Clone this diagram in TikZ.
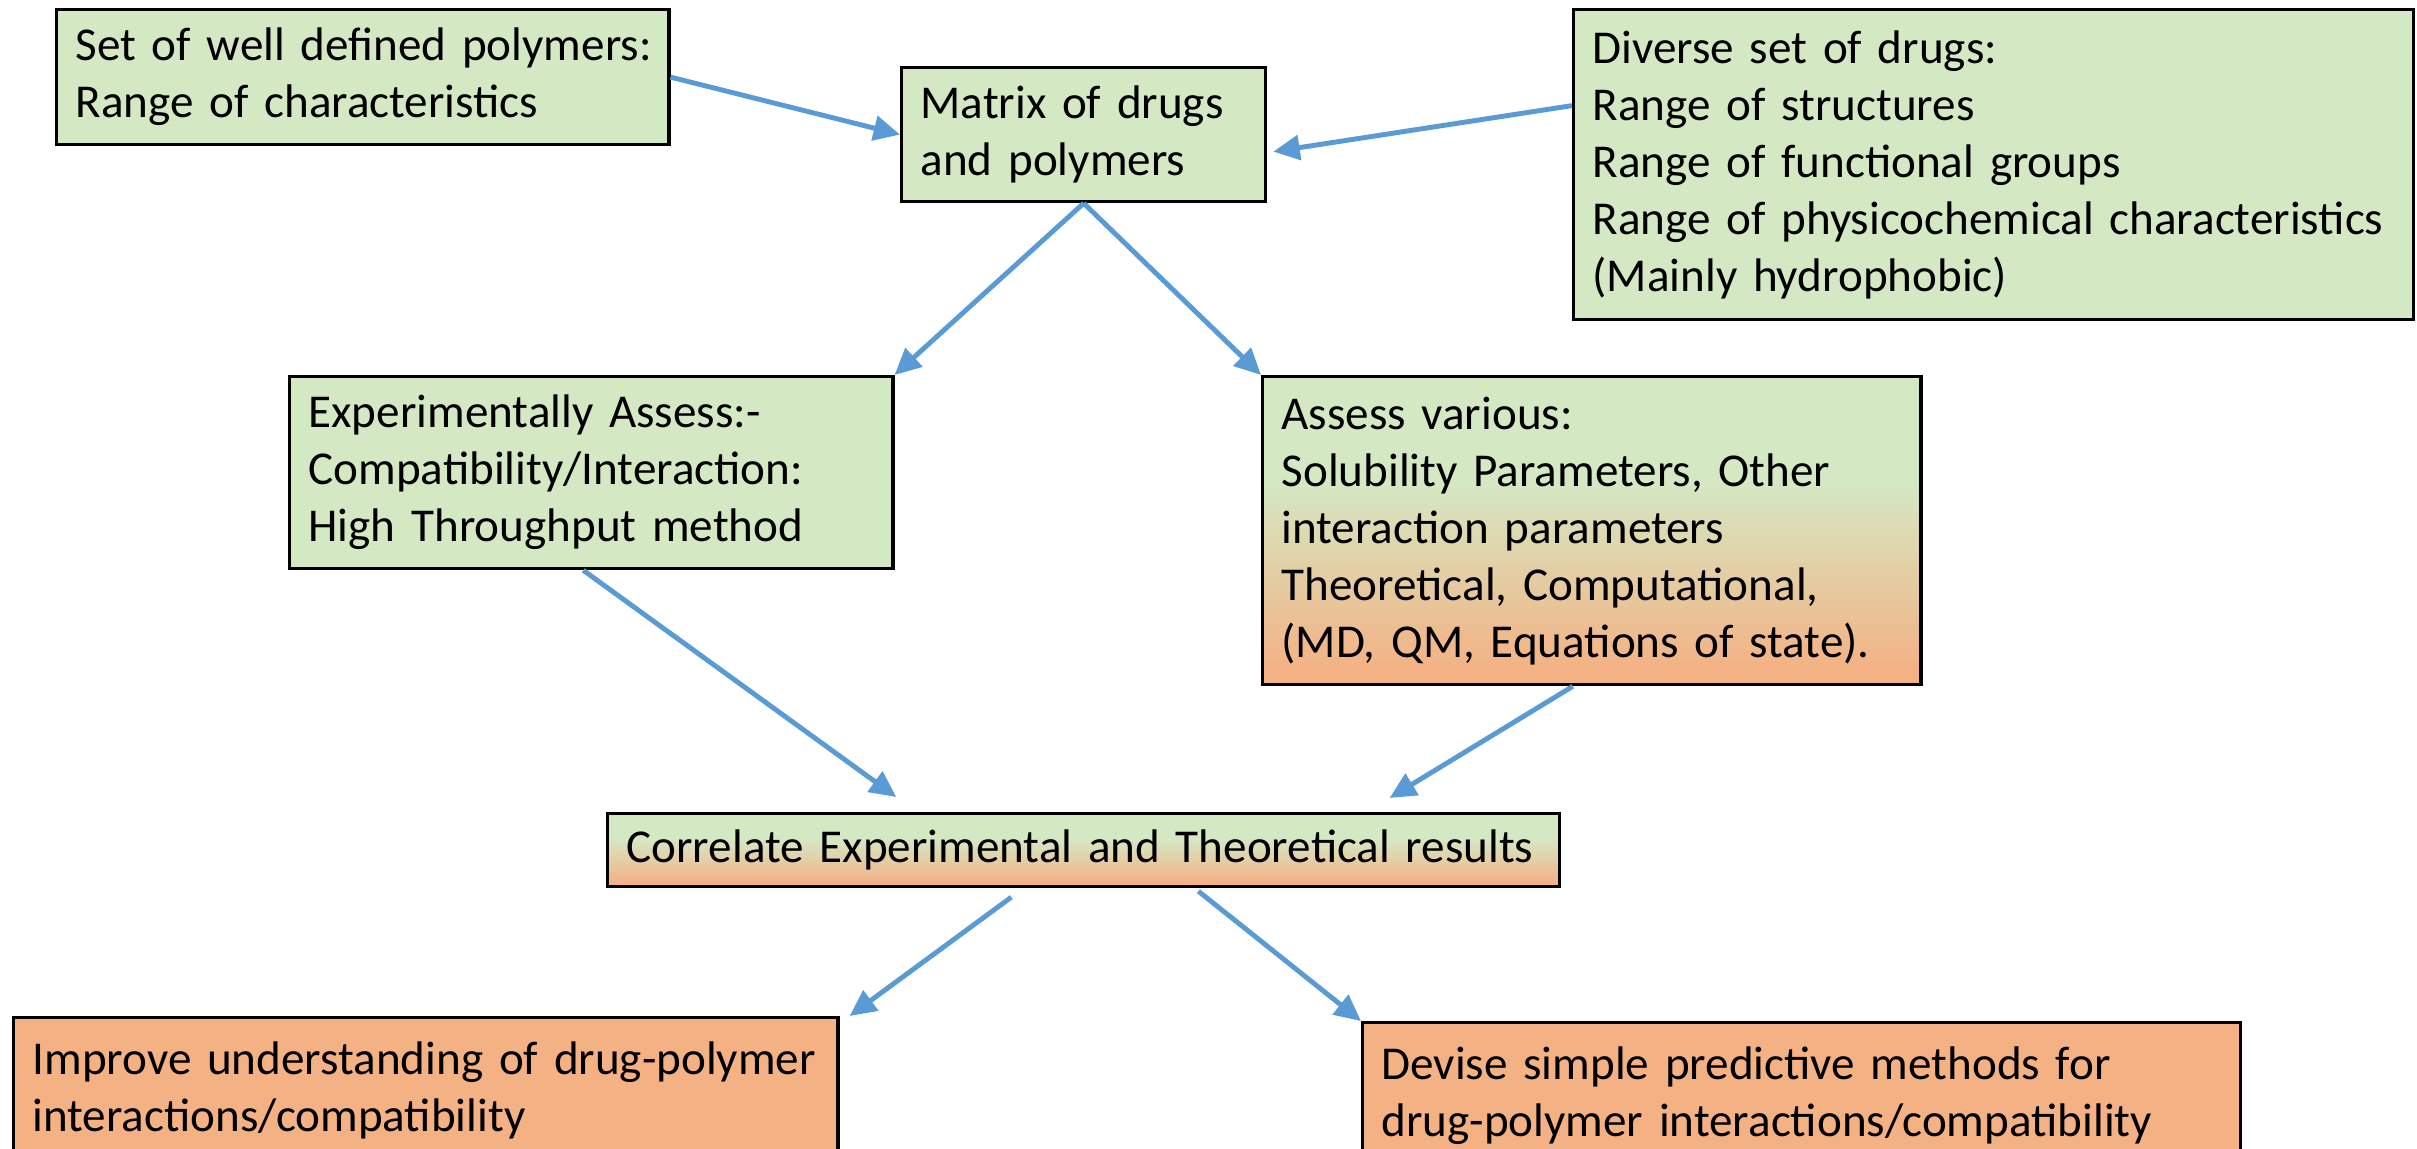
\documentclass[tikz,border=0pt]{standalone}
\usepackage{fontspec}
\setmainfont{Carlito}
\usetikzlibrary{arrows.meta}
\definecolor{boxgreen}{HTML}{D5E8C4}
\definecolor{boxorange}{HTML}{F4B183}
\definecolor{arrowblue}{HTML}{5B9BD5}
\pgfdeclareverticalshading{greentoorange}{100bp}{color(0bp)=(boxorange); color(27bp)=(boxorange); color(58bp)=(boxgreen); color(100bp)=(boxgreen)}

\begin{document}
\begin{tikzpicture}[x=0.01cm, y=-0.01cm,
		box/.style={draw=black, line width=0.9pt, anchor=north west, align=left, inner xsep=0.19cm, inner ysep=0pt, font=\fontsize{13.4}{16.2}\selectfont},
		greenbox/.style={box, fill=boxgreen},
		orangebox/.style={box, fill=boxorange},
		mixbox/.style={box, shading=greentoorange},
		flow/.style={draw=arrowblue, line width=1.4pt, -{Triangle[length=7.5pt,width=7pt]}}]

		\useasboundingbox (0,0) rectangle (2417,1149);
		\clip (0,0) rectangle (2417,1149);

		\node[greenbox, text width=5.74cm, minimum height=1.35cm] (polymers) at (55,8) {\mbox{Set of well defined polymers:}\\Range of characteristics};
		\node[greenbox, text width=3.26cm, minimum height=1.34cm] (drugpoly) at (900,66) {Matrix of drugs\\and polymers};
		\node[greenbox, text width=8.01cm, minimum height=3.10cm] (drugs) at (1572,8) {Diverse set of drugs:\\Range of structures\\Range of functional groups\\Range of physicochemical characteristics\\(Mainly hydrophobic)};

		\node[greenbox, text width=5.65cm, minimum height=1.92cm] (experiment) at (288,375) {Experimentally Assess:-\\Compatibility/Interaction:\\High Throughput method};
		\node[mixbox, text width=6.20cm, minimum height=3.08cm] (theory) at (1261,375) {Assess various:\\Solubility Parameters, Other\\interaction parameters\\Theoretical, Computational,\\(MD, QM, Equations of state).};

		\node[mixbox, text width=9.13cm, minimum height=0.73cm] (correlate) at (606,812) {Correlate Experimental and Theoretical results};

		\node[orangebox, text width=7.86cm, minimum height=1.46cm] (improve) at (12,1016) {Improve understanding of drug-polymer\\interactions/compatibility};
		\node[orangebox, text width=8.39cm, minimum height=1.46cm] (devise) at (1361,1021) {Devise simple predictive methods for\\drug-polymer interactions/compatibility};

		\draw[flow] (polymers.east) -- (drugpoly.west);
		\draw[flow] ([yshift=0.59cm]drugs.west) -- ([xshift=0.06cm,yshift=-0.17cm]drugpoly.east);
		\draw[flow] (drugpoly.south) -- (experiment.north east);
		\draw[flow] (drugpoly.south) -- (theory.north west);
		\draw[flow] ([xshift=-0.08cm]experiment.south) -- ([xshift=-1.87cm,yshift=0.15cm]correlate.north);
		\draw[flow] ([xshift=-0.19cm]theory.south) -- ([xshift=-1.71cm,yshift=0.14cm]correlate.north east);
		\draw[flow] ([xshift=-0.72cm,yshift=-0.09cm]correlate.south) -- ([xshift=0.1cm]improve.north east);
		\draw[flow] ([xshift=1.15cm,yshift=-0.03cm]correlate.south) -- (devise.north west);
\end{tikzpicture}
\end{document}
